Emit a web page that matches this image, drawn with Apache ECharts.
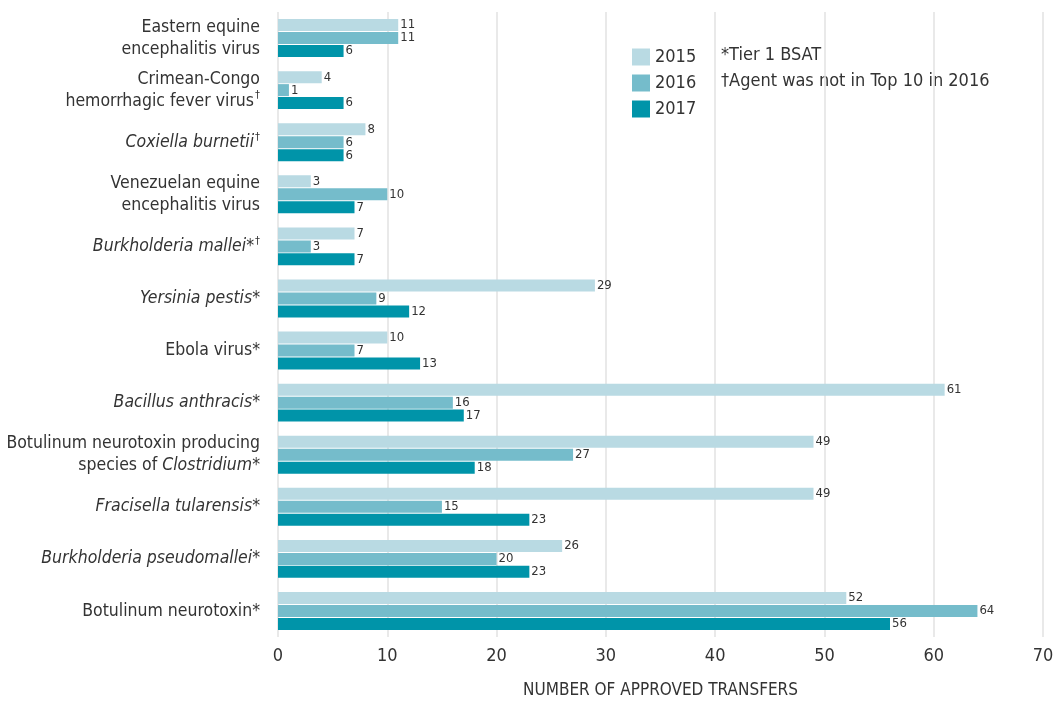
<!DOCTYPE html>
<html>
<head>
<meta charset="utf-8">
<script src="https://cdn.jsdelivr.net/npm/echarts@6/dist/echarts.min.js"></script>
<style>
html,body{margin:0;padding:0;background:#fff;}
#chart{width:1057px;height:704px;}
</style>
</head>
<body>
<div id="chart"></div>
<script>
// Categories, top to bottom (rich-text markup for italics and superscripts)
var categories = [
  'Eastern equine\nencephalitis virus',
  'Crimean-Congo\nhemorrhagic fever virus{sup|†}',
  '{i|Coxiella burnetii}{sup|†}',
  'Venezuelan equine\nencephalitis virus',
  '{i|Burkholderia mallei}*{sup|†}',
  '{i|Yersinia pestis}*',
  'Ebola virus*',
  '{i|Bacillus anthracis}*',
  'Botulinum neurotoxin producing\nspecies of {i|Clostridium}*',
  '{i|Fracisella tularensis}*',
  '{i|Burkholderia pseudomallei}*',
  'Botulinum neurotoxin*'
];
var values2015 = [11, 4, 8, 3, 7, 29, 10, 61, 49, 49, 26, 52];
var values2016 = [11, 1, 6, 10, 3, 9, 7, 16, 27, 15, 20, 64];
var values2017 = [6, 6, 6, 7, 7, 12, 13, 17, 18, 23, 23, 56];
var seriesNames = ['2015', '2016', '2017'];
var xTicks = [0, 10, 20, 30, 40, 50, 60, 70];
var notes = ['*Tier 1 BSAT', '†Agent was not in Top 10 in 2016'];
var axisTitle = 'NUMBER OF APPROVED TRANSFERS';

var FONT = "'Liberation Sans Narrow', 'DejaVu Sans Condensed', 'Roboto', sans-serif";
var colors = ['#b9dae3', '#75bccb', '#0094a9'];

var chart = echarts.init(document.getElementById('chart'));
function mkSeries(name, data, color) {
  return {
    name: name, type: 'bar', data: data, barWidth: 12, barGap: '8%',
    itemStyle: { color: color },
    label: { show: true, position: 'right', distance: 2, color: '#333', fontSize: 13, fontFamily: FONT },
    animation: false
  };
}
var option = {
  animation: false,
  color: colors,
  grid: { left: 278, right: 14, top: 12, bottom: 67, containLabel: false, outerBoundsMode: 'none' },
  legend: {
    orient: 'vertical', left: 627, top: 43, itemWidth: 18, itemHeight: 17, itemGap: 8,
    icon: 'rect',
    textStyle: { fontSize: 18, color: '#333', fontFamily: FONT },
    data: seriesNames
  },
  xAxis: {
    type: 'value', min: xTicks[0], max: xTicks[xTicks.length - 1], interval: 10,
    axisLine: { show: false }, axisTick: { show: false },
    axisLabel: { fontSize: 18, color: '#333', fontFamily: FONT, margin: 10 },
    splitLine: { show: true, lineStyle: { color: '#e2e2e2', width: 1.5 } },
    name: axisTitle, nameLocation: 'middle', nameGap: 45,
    nameTextStyle: { fontSize: 17, color: '#333', fontFamily: FONT }
  },
  yAxis: {
    type: 'category', inverse: true, data: categories,
    axisLine: { show: false }, axisTick: { show: false },
    axisLabel: {
      fontSize: 17.5, color: '#333', fontFamily: FONT, margin: 18, lineHeight: 22, align: 'right',
      rich: {
        i: { fontStyle: 'italic', fontSize: 17.5, color: '#333', fontFamily: FONT, lineHeight: 22 },
        sup: { fontSize: 11, color: '#333', fontFamily: FONT, verticalAlign: 'top', lineHeight: 22, padding: [0, 0, 8, 1] }
      }
    }
  },
  graphic: [
    { type: 'text', left: 721, top: 46, style: { text: notes[0], fontSize: 18, fill: '#333', fontFamily: FONT } },
    { type: 'text', left: 721, top: 72, style: { text: notes[1], fontSize: 18, fill: '#333', fontFamily: FONT } }
  ],
  series: [
    mkSeries(seriesNames[0], values2015, colors[0]),
    mkSeries(seriesNames[1], values2016, colors[1]),
    mkSeries(seriesNames[2], values2017, colors[2])
  ]
};
chart.setOption(option);
</script>
</body>
</html>
